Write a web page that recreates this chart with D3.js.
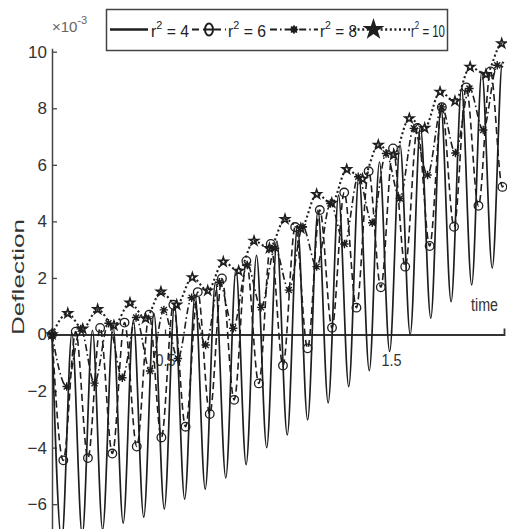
<!DOCTYPE html>
<html><head><meta charset="utf-8">
<script src="https://cdn.jsdelivr.net/npm/d3@7/dist/d3.min.js"></script>
<style>
html,body{margin:0;padding:0;background:#fff;}
svg{display:block;font-family:"Liberation Sans",Arial,sans-serif;}
</style></head>
<body>
<svg id="chart" width="507" height="529"></svg>
<script>
// ---- data (time, deflection x 1e-3) ----
const timeTicks = [0.5, 1.5];
const yTicks = [-6, -4, -2, 0, 2, 4, 6, 8, 10];
const legendValues = ["4", "6", "8", "10"];
const startPoint = [0, 0];

// r^2 = 4 (solid)
const r4MinT = [0.043,0.134,0.224,0.315,0.406,0.497,0.587,0.678,0.769,0.859,0.950,1.041,1.131,1.222,1.313,1.404,1.494,1.585,1.676,1.766,1.857,1.948];
const r4MinV = [-7.3,-7.1,-6.9,-6.67,-6.46,-6.17,-5.82,-5.47,-5.07,-4.6,-4.0,-3.55,-3.02,-2.42,-1.84,-1.28,-0.6,0.0,0.58,1.16,1.75,2.35];
const r4MaxT = [0.088,0.179,0.270,0.360,0.451,0.542,0.633,0.723,0.814,0.905,0.995,1.086,1.177,1.268,1.358,1.449,1.540,1.630,1.721,1.812,1.902,1.993];
const r4MaxV = [0.05,0.15,0.3,0.5,0.75,1.05,1.4,1.85,2.3,2.8,3.3,3.85,4.4,4.93,5.6,6.1,6.7,7.35,8.03,8.7,9.3,9.62];
const r4End = [2.0, 9.6];

// r^2 = 6 (dashed, circles)
const r6MinT = [0.050,0.159,0.267,0.375,0.484,0.591,0.698,0.806,0.915,1.022,1.131,1.239,1.347,1.455,1.563,1.671,1.779,1.887,1.993];
const r6MinV = [-4.45,-4.37,-4.21,-3.96,-3.64,-3.26,-2.81,-2.31,-1.73,-1.1,-0.49,0.24,0.95,1.67,2.4,3.13,3.81,4.55,5.22];
const r6MaxT = [0.105,0.213,0.321,0.430,0.537,0.645,0.752,0.860,0.968,1.076,1.185,1.293,1.401,1.509,1.617,1.725,1.833,1.940];
const r6MaxV = [0.1,0.23,0.42,0.7,1.05,1.5,1.98,2.6,3.2,3.8,4.4,5.02,5.77,6.58,7.3,8.04,8.74,9.3];
const r6End = [2.0, 5.3];

// r^2 = 8 (dash-dot, asterisks)
const r8MinT = [0.065,0.188,0.311,0.434,0.557,0.680,0.802,0.925,1.048,1.171,1.294,1.417,1.539,1.662,1.785,1.908];
const r8MinV = [-1.84,-1.72,-1.53,-1.29,-0.85,-0.37,0.22,0.96,1.57,2.4,3.2,3.95,4.81,5.64,6.42,7.23];
const r8MaxT = [0.127,0.250,0.372,0.495,0.618,0.741,0.864,0.987,1.110,1.232,1.355,1.478,1.601,1.724,1.847,1.970];
const r8MaxV = [0.2,0.4,0.6,0.87,1.3,1.85,2.46,3.05,3.8,4.63,5.58,6.4,7.29,8.05,8.7,9.52];
const r8End = [2.0, 9.45];

// r^2 = 10 (dotted, stars)
const r10MinT = [0.136,0.274,0.414,0.552,0.689,0.826,0.962,1.101,1.238,1.374,1.512,1.649,1.783,1.920];
const r10MinV = [0.2,0.32,0.57,1.05,1.55,2.25,3.05,3.75,4.65,5.5,6.35,7.3,8.25,9.2];
const r10MaxT = [0.070,0.202,0.345,0.482,0.621,0.758,0.894,1.031,1.171,1.304,1.444,1.581,1.717,1.850,1.990];
const r10MaxV = [0.75,0.89,1.12,1.51,2.02,2.57,3.31,4.08,4.96,5.84,6.7,7.64,8.58,9.46,10.29];
const r10End = [2.0, 10.27];

// ---- drawing ----
const svg = d3.select("#chart");
const ink = "#1e1e1e";
const y0 = 334.5, k = 28.28;
const x = d3.scaleLinear().domain([0, 2]).range([52, 504]);
const y = d3.scaleLinear().domain([-7, 10.12]).range([y0 + 7 * k, y0 - 10.12 * k]);

function buildPoints(minT, minV, maxT, maxV, end) {
  const pts = [{t: startPoint[0], v: startPoint[1]}];
  minT.forEach((t, i) => pts.push({t, v: minV[i]}));
  maxT.forEach((t, i) => pts.push({t, v: maxV[i]}));
  pts.sort((a, b) => a.t - b.t);
  pts.push({t: end[0], v: end[1]});
  return pts;
}
const series = [
  {pts: buildPoints(r4MinT, r4MinV, r4MaxT, r4MaxV, r4End), dash: null, w: 1.7, marker: null},
  {pts: buildPoints(r6MinT, r6MinV, r6MaxT, r6MaxV, r6End), dash: "7,4", w: 1.6, marker: "circle"},
  {pts: buildPoints(r8MinT, r8MinV, r8MaxT, r8MaxV, r8End), dash: "7,3,1.6,3", w: 1.6, marker: "asterisk"},
  {pts: buildPoints(r10MinT, r10MinV, r10MaxT, r10MaxV, r10End), dash: "2,2.6", w: 2.1, marker: "star"}
];

// axes
const yAxis = d3.axisLeft(y).tickValues(yTicks).tickSize(-5).tickSizeOuter(0).tickPadding(5);
const gy = svg.append("g").attr("transform", `translate(${x(0)},0)`).call(yAxis);
gy.select(".domain").attr("stroke", "#444").attr("stroke-width", 1.5);
gy.selectAll(".tick line").attr("stroke", "#444").attr("stroke-width", 1.3);
gy.selectAll(".tick text").attr("font-size", 17).attr("fill", "#333")
  .attr("font-family", '"Liberation Sans",Arial,sans-serif');

const xAxis = d3.axisBottom(x).tickValues(timeTicks).tickSize(-5).tickSizeOuter(-6).tickPadding(19).tickFormat(d3.format(".1f"));
const gx = svg.append("g").attr("transform", `translate(0,${y(0)})`).call(xAxis);
gx.select(".domain").attr("stroke", "#333").attr("stroke-width", 1.8);
gx.selectAll(".tick line").attr("stroke", "#333").attr("stroke-width", 1.3);
gx.selectAll(".tick text").attr("font-size", 17).attr("fill", "#333")
  .attr("font-family", '"Liberation Sans",Arial,sans-serif').attr("transform", "scale(0.85,1)");

// curves
const line = d3.line().x(d => x(d.t)).y(d => y(d.v)).curve(d3.curveMonotoneX);
const asteriskPath = "M-4.2,0H4.2M0,-4.2V4.2M-3,-3L3,3M-3,3L3,-3";
const starGen = d3.symbol().type(d3.symbolStar).size(24);

series.forEach(s => {
  svg.append("path").datum(s.pts).attr("d", line)
    .attr("fill", "none").attr("stroke", ink).attr("stroke-width", s.w)
    .attr("stroke-dasharray", s.dash).attr("stroke-linejoin", "round");
});
series.forEach(s => {
  if (!s.marker) return;
  const g = svg.append("g");
  const pts = s.pts.slice(0, -1);
  if (s.marker === "circle") {
    g.selectAll("circle").data(pts).join("circle")
      .attr("cx", d => x(d.t)).attr("cy", d => y(d.v)).attr("r", 4.3)
      .attr("fill", "none").attr("stroke", ink).attr("stroke-width", 1.3);
  } else if (s.marker === "asterisk") {
    g.selectAll("path").data(pts).join("path")
      .attr("transform", d => `translate(${x(d.t)},${y(d.v)})`).attr("d", asteriskPath)
      .attr("fill", "none").attr("stroke", ink).attr("stroke-width", 1.4);
  } else {
    g.selectAll("path").data(pts).join("path")
      .attr("transform", d => `translate(${x(d.t)},${y(d.v)})`).attr("d", starGen())
      .attr("fill", "none").attr("stroke", ink).attr("stroke-width", 1.6);
  }
});

// axis labels
svg.append("text").attr("transform", "translate(24,277) rotate(-90)")
  .attr("text-anchor", "middle").attr("font-size", 17).attr("fill", "#333")
  .attr("textLength", 116).attr("lengthAdjust", "spacingAndGlyphs").text("Deflection");
svg.append("text").attr("x", 471).attr("y", 311).attr("font-size", 18).attr("fill", "#333")
  .attr("textLength", 27).attr("lengthAdjust", "spacingAndGlyphs").text("time");
const ex = svg.append("text").attr("x", 52).attr("y", 32).attr("font-size", 15).attr("fill", "#666");
ex.append("tspan").text("\u00d710");
ex.append("tspan").attr("dy", -8).attr("font-size", 11).text("-3");

// legend
const lg = svg.append("g");
lg.append("rect").attr("x", 106.5).attr("y", 9.5).attr("width", 341).attr("height", 41)
  .attr("fill", "#fff").attr("stroke", "#444").attr("stroke-width", 1.5);
const ly = 29.5;
const items = [
  {x0: 110, x1: 148, tx: 151, tl: 38, s: series[0]},
  {x0: 192, x1: 226, tx: 228, tl: 38, s: series[1]},
  {x0: 270, x1: 318, tx: 320, tl: 37, s: series[2]},
  {x0: 353, x1: 410, tx: 411, tl: 34, s: series[3]}
];
items.forEach((it, i) => {
  lg.append("line").attr("x1", it.x0).attr("x2", it.x1).attr("y1", ly).attr("y2", ly)
    .attr("stroke", ink).attr("stroke-width", it.s.w + 0.6).attr("stroke-dasharray", it.s.dash);
  const cx = (it.x0 + it.x1) / 2;
  if (it.s.marker === "circle") {
    lg.append("ellipse").attr("cx", cx).attr("cy", ly).attr("rx", 4).attr("ry", 6)
      .attr("fill", "#fff").attr("stroke", ink).attr("stroke-width", 2);
    lg.append("line").attr("x1", cx - 4).attr("x2", cx + 4).attr("y1", ly).attr("y2", ly)
      .attr("stroke", ink).attr("stroke-width", 2);
  } else if (it.s.marker === "asterisk") {
    lg.append("circle").attr("cx", cx).attr("cy", ly).attr("r", 3.2).attr("fill", ink);
    lg.append("path").attr("transform", `translate(${cx},${ly})`).attr("d", asteriskPath)
      .attr("stroke", ink).attr("stroke-width", 1.5);
  } else if (it.s.marker === "star") {
    lg.append("path").attr("transform", `translate(${cx - 8},${ly})`)
      .attr("d", d3.symbol().type(d3.symbolStar).size(150)()).attr("fill", ink);
  }
  const tg = lg.append("g");
  const t = tg.append("text").attr("x", 0).attr("y", 0).attr("font-size", 16).attr("fill", "#222");
  t.append("tspan").text("r");
  t.append("tspan").attr("dy", -8).attr("font-size", 11).text("2");
  t.append("tspan").attr("dy", 8).text(" = " + legendValues[i]);
  const w = t.node().getComputedTextLength() || it.tl;
  tg.attr("transform", `translate(${it.tx},36.5) scale(${Math.min(1, it.tl / w)},1)`);
});
</script>
</body></html>
